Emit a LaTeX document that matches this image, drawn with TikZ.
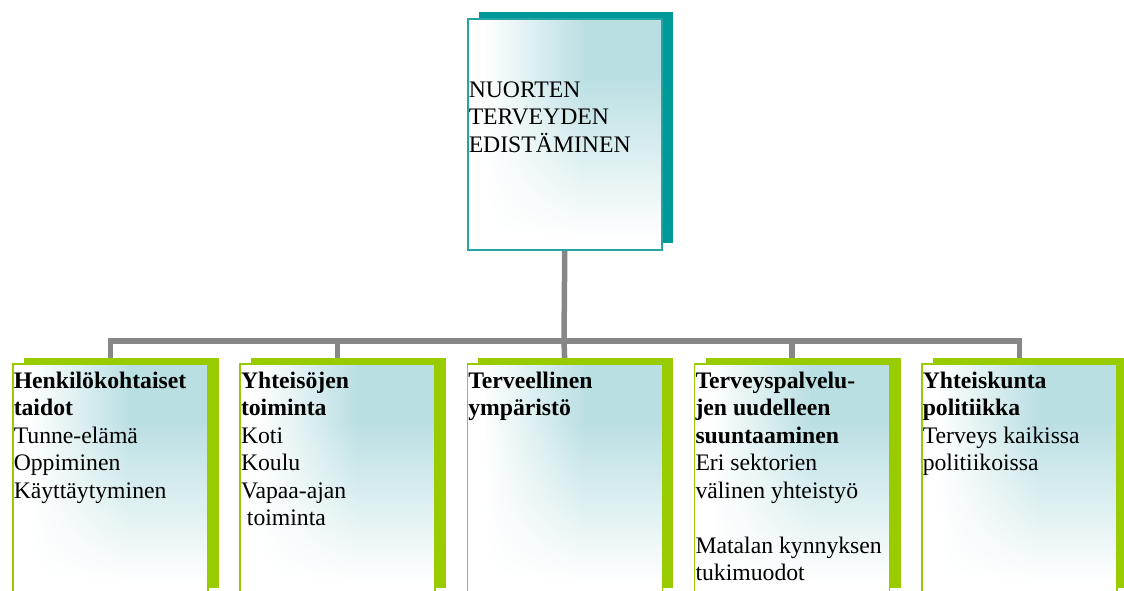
\documentclass[tikz,border=0pt]{standalone}
\usepackage{fontspec}
\setmainfont{Liberation Serif}
\usetikzlibrary{shadows,backgrounds}
\definecolor{teal1}{HTML}{009999}
\definecolor{tealB}{HTML}{26A3A3}
\definecolor{lime1}{HTML}{99CC00}
\definecolor{connG}{HTML}{878787}
% white at the left and bottom, pale cyan towards the upper right
\pgfdeclarefunctionalshading{glow}{\pgfpoint{-50bp}{-50bp}}{\pgfpoint{50bp}{50bp}}{}{
  25 add 50 div 0.05 sub 0.7 div dup 0 lt {pop 0} if dup 1 gt {pop 1} if
  exch 25 add 50 div 0.08 sub 0.52 div dup 0 lt {pop 0} if dup 1 gt {pop 1} if
  mul
  dup dup 0.11 mul neg 1 add exch 0.125 mul neg 1 add exch 3 -1 roll 0.27 mul neg 1 add 3 1 roll
}
\tikzset{
 panel/.style={rectangle, inner xsep=1pt, inner ysep=0pt, anchor=north west,
   shading=glow, font=\fontsize{23.7}{27.5}\selectfont},
 topbox/.style={panel, draw=tealB, line width=1.5pt,
   general shadow={fill=teal1, draw=none, shadow xshift=11.5pt, shadow yshift=7pt}},
 subbox/.style={panel, draw=lime1, line width=1.5pt,
   general shadow={fill=lime1, draw=none, shadow xshift=11pt, shadow yshift=6pt}},
 conn/.style={draw=connG, line width=5.5pt}
}
\newcommand{\subtext}[1]{\parbox[c][230pt][t]{193pt}{\raggedright\rule{0pt}{24.5pt}#1}}
\begin{document}
\begin{tikzpicture}[x=1pt,y=-1pt]
\path[use as bounding box] (0,0) rectangle (1124,590);
\clip (0,0) rectangle (1124,590);
\node[topbox] (top) at (467,18) {\parbox[c][231pt][t]{192pt}{\raggedright\rule{0pt}{78.7pt}NUORTEN\\TERVEYDEN\\EDISTÄMINEN}};
\node[subbox] (b1) at (12,363) {\subtext{\textbf{Henkilökohtaiset}\\\textbf{taidot}\\Tunne-elämä\\Oppiminen\\Käyttäytyminen}};
\node[subbox] (b2) at (239.25,363) {\subtext{\textbf{Yhteisöjen}\\\textbf{toiminta}\\Koti\\Koulu\\Vapaa-ajan\\\hspace*{0.25em}toiminta}};
\node[subbox] (b3) at (466.5,363) {\subtext{\textbf{Terveellinen}\\\textbf{ympäristö}}};
\node[subbox] (b4) at (693.75,363) {\subtext{\textbf{Terveyspalvelu-}\\\textbf{jen uudelleen}\\\textbf{suuntaaminen}\\Eri sektorien\\välinen yhteistyö\\[27.5pt]Matalan kynnyksen\\tukimuodot}};
\node[subbox] (b5) at (921,363) {\subtext{\textbf{Yhteiskunta}\\\textbf{politiikka}\\Terveys kaikissa\\politiikoissa}};
\coordinate (bus) at (564,341);
\begin{scope}[on background layer]
\draw[conn] (top.south) -- (bus);
\draw[conn] (bus) -| (b1.north);
\draw[conn] (bus) -| (b2.north);
\draw[conn] (bus) -- (b3.north);
\draw[conn] (bus) -| (b4.north);
\draw[conn] (bus) -| (b5.north);
\end{scope}
\end{tikzpicture}
\end{document}
